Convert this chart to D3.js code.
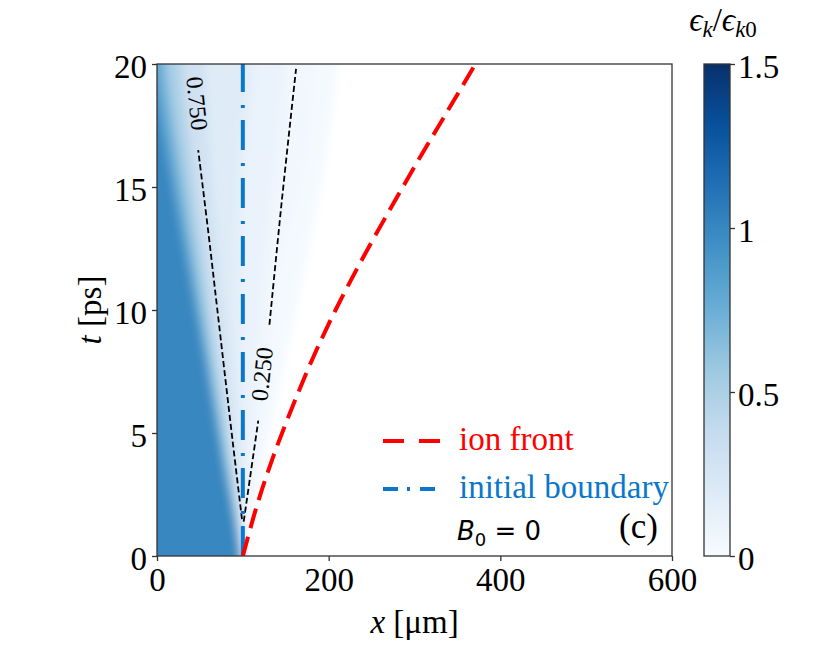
<!DOCTYPE html>
<html>
<head>
<meta charset="utf-8">
<script src="https://cdn.jsdelivr.net/npm/d3@7"></script>
<style>
  body { margin: 0; background: #fff; }
  svg { display: block; }
</style>
</head>
<body>
<svg id="chart" width="830" height="646" font-family="Liberation Serif, Times New Roman, serif"></svg>
<script>
// ---- data ----
var xTicks = [0, 200, 400, 600];
var tTicks = [0, 5, 10, 15, 20];
var cbTicks = [0, 0.5, 1, 1.5];
var cbTickLabels = ["0", "0.5", "1", "1.5"];

// matplotlib "Blues"
var bluesStops = ["#f7fbff", "#deebf7", "#c6dbef", "#9ecae1", "#6baed6", "#4292c6", "#2171b5", "#08519c", "#08306b"];

var boundaryX = 100;

// ion front x(t)
var frontT = [0, 2, 4, 6, 8, 10, 12, 14, 16, 18, 20];
var frontX = [100, 116, 135, 157, 181, 208, 238, 270, 303, 337, 371];

// eps_k/eps_k0 field: x where the value falls below each level, at each t row
var heatT = [0, 4, 8, 12, 16, 20];
var heatLevels = [0.02, 0.05, 0.1, 0.18, 0.3, 0.5, 0.75, 1.0];
var heatEdges = [
  [100, 126, 150, 174, 196, 210],
  [100, 120, 130, 145, 172, 182],
  [100, 110, 118, 125, 138, 148],
  [100, 102, 96, 94, 98, 110],
  [100, 92, 83, 72, 62, 56],
  [99, 86, 70, 55, 40, 28],
  [98, 80, 62, 44, 26, 10],
  [97, 76, 56, 35, 14, -4]
];

// contour lines (t, x)
var c750T = [1.5, 4.7, 10.1, 13.1, 16.5];
var c750X = [99, 88, 70, 60, 48];
var c250LowT = [1.4, 5.5];
var c250LowX = [101, 118];
var c250HighT = [9.4, 14.3, 19.8];
var c250HighX = [131, 145, 162];

var svg = d3.select("#chart");
var pL = 157, pR = 672, pT = 64, pB = 556;

var x = d3.scaleLinear().domain([0, 600]).range([pL, pR]);
var y = d3.scaleLinear().domain([0, 20]).range([pB, pT]);
var color = d3.scaleLinear()
  .domain(bluesStops.map(function(d, i) { return i * 1.5 / (bluesStops.length - 1); }))
  .range(bluesStops);

var defs = svg.append("defs");
defs.append("clipPath").attr("id", "plotclip")
  .append("rect")
  .attr("x", pL).attr("y", pT)
  .attr("width", pR - pL).attr("height", pB - pT);
defs.append("filter").attr("id", "soft")
  .attr("x", "-20%").attr("y", "-20%").attr("width", "140%").attr("height", "140%")
  .append("feGaussianBlur").attr("stdDeviation", 5);

// heatmap bands, widest (lowest) first, blurred into a smooth field
var heat = svg.append("g").attr("clip-path", "url(#plotclip)")
  .append("g").attr("filter", "url(#soft)");

var band = d3.area()
  .y(function(d) { return d[1]; })
  .x0(x(-80))
  .x1(function(d) { return d[0]; })
  .curve(d3.curveCatmullRom);

heatLevels.forEach(function(lv, i) {
  var pts = heatT.map(function(t, j) { return [x(heatEdges[i][j]), y(t)]; });
  pts.unshift([pts[0][0], pB + 40]);
  pts.push([pts[pts.length - 1][0], pT - 40]);
  heat.append("path")
    .attr("d", band(pts))
    .attr("fill", color(lv));
});

var plot = svg.append("g").attr("clip-path", "url(#plotclip)");

var tLine = d3.line()
  .x(function(d) { return x(d[1]); })
  .y(function(d) { return y(d[0]); })
  .curve(d3.curveCatmullRom);

function zipTX(ts, xs) {
  return ts.map(function(t, i) { return [t, xs[i]]; });
}

// contours
[zipTX(c750T, c750X), zipTX(c250LowT, c250LowX), zipTX(c250HighT, c250HighX)].forEach(function(seg) {
  plot.append("path")
    .attr("d", tLine(seg))
    .attr("fill", "none")
    .attr("stroke", "#000")
    .attr("stroke-width", 1.8)
    .attr("stroke-dasharray", "6,3");
});

plot.append("text")
  .attr("transform", "translate(" + x(47) + "," + y(18.4) + ") rotate(84)")
  .attr("text-anchor", "middle")
  .attr("dy", "0.35em")
  .attr("font-size", 24)
  .text("0.750");

plot.append("text")
  .attr("transform", "translate(" + x(122) + "," + y(7.4) + ") rotate(-84)")
  .attr("text-anchor", "middle")
  .attr("dy", "0.35em")
  .attr("font-size", 24)
  .text("0.250");

// initial boundary
var blueLine = "#0a77cc";
plot.append("line")
  .attr("x1", x(boundaryX)).attr("x2", x(boundaryX))
  .attr("y1", y(0)).attr("y2", y(20))
  .attr("stroke", blueLine)
  .attr("stroke-width", 4)
  .attr("stroke-dasharray", "30,12,3,13");

// ion front
plot.append("path")
  .attr("d", tLine(zipTX(frontT, frontX)))
  .attr("fill", "none")
  .attr("stroke", "#ff0000")
  .attr("stroke-width", 4)
  .attr("stroke-dasharray", "20,9");

// frame + axes
svg.append("rect")
  .attr("x", pL).attr("y", pT)
  .attr("width", pR - pL).attr("height", pB - pT)
  .attr("fill", "none").attr("stroke", "#333").attr("stroke-width", 1.3);

var xAxis = svg.append("g")
  .attr("transform", "translate(0," + pB + ")")
  .call(d3.axisBottom(x).tickValues(xTicks).tickSize(5).tickPadding(7).tickFormat(d3.format("d")));
var yAxis = svg.append("g")
  .attr("transform", "translate(" + pL + ",0)")
  .call(d3.axisLeft(y).tickValues(tTicks).tickSize(5).tickPadding(5).tickFormat(d3.format("d")));

[xAxis, yAxis].forEach(function(g) {
  g.select(".domain").remove();
  g.selectAll(".tick line").attr("stroke", "#333").attr("stroke-width", 1.3);
  g.selectAll(".tick text")
    .attr("font-family", "Liberation Serif, serif")
    .attr("font-size", 33)
    .attr("fill", "#000");
});
yAxis.selectAll(".tick text").attr("dy", "0.4em");

svg.append("text")
  .attr("x", (pL + pR) / 2).attr("y", 633)
  .attr("text-anchor", "middle")
  .attr("font-size", 33)
  .call(function(t) {
    t.append("tspan").attr("font-style", "italic").text("x");
    t.append("tspan").text(" [\u03bcm]");
  });

svg.append("text")
  .attr("transform", "translate(101," + (pT + pB) / 2 + ") rotate(-90)")
  .attr("text-anchor", "middle")
  .attr("font-size", 33)
  .call(function(t) {
    t.append("tspan").attr("font-style", "italic").text("t");
    t.append("tspan").text(" [ps]");
  });

// legend
svg.append("line")
  .attr("x1", 383).attr("x2", 440).attr("y1", 441).attr("y2", 441)
  .attr("stroke", "#ff0000").attr("stroke-width", 4)
  .attr("stroke-dasharray", "21,15");
svg.append("text")
  .attr("x", 459).attr("y", 450)
  .attr("font-size", 33).attr("fill", "#ff0000")
  .text("ion front");
svg.append("line")
  .attr("x1", 383).attr("x2", 440).attr("y1", 489).attr("y2", 489)
  .attr("stroke", blueLine).attr("stroke-width", 4)
  .attr("stroke-dasharray", "15,9,3,10");
svg.append("text")
  .attr("x", 459).attr("y", 498)
  .attr("font-size", 33).attr("fill", blueLine)
  .text("initial boundary");

svg.append("text")
  .attr("x", 457).attr("y", 540)
  .attr("font-family", "DejaVu Sans, sans-serif")
  .attr("font-size", 26)
  .call(function(t) {
    t.append("tspan").attr("font-style", "italic").text("B");
    t.append("tspan").attr("font-size", 18).attr("dy", 6).text("0");
    t.append("tspan").attr("dy", -6).text(" = 0");
  });
svg.append("text")
  .attr("x", 619).attr("y", 538)
  .attr("font-size", 35)
  .text("(c)");

// colorbar
var cbX = 704, cbW = 26;
var cbY = d3.scaleLinear().domain([0, 1.5]).range([pB, pT]);
var grad = defs.append("linearGradient").attr("id", "cbgrad")
  .attr("x1", 0).attr("y1", 1).attr("x2", 0).attr("y2", 0);
bluesStops.forEach(function(c, i) {
  grad.append("stop")
    .attr("offset", i / (bluesStops.length - 1))
    .attr("stop-color", c);
});
svg.append("rect")
  .attr("x", cbX).attr("y", pT)
  .attr("width", cbW).attr("height", pB - pT)
  .attr("fill", "url(#cbgrad)")
  .attr("stroke", "#333").attr("stroke-width", 1.3);

var cbAxis = svg.append("g")
  .attr("transform", "translate(" + (cbX + cbW) + ",0)")
  .call(d3.axisRight(cbY).tickValues(cbTicks).tickSize(5).tickPadding(3)
    .tickFormat(function(d, i) { return cbTickLabels[i]; }));
cbAxis.select(".domain").remove();
cbAxis.selectAll(".tick line").attr("stroke", "#333").attr("stroke-width", 1.3);
cbAxis.selectAll(".tick text")
  .attr("font-family", "Liberation Serif, serif")
  .attr("font-size", 33)
  .attr("fill", "#000")
  .attr("dy", "0.4em");

svg.append("text")
  .attr("x", 723).attr("y", 31)
  .attr("text-anchor", "middle")
  .attr("font-size", 33)
  .attr("font-style", "italic")
  .call(function(t) {
    t.append("tspan").text("\u03f5");
    t.append("tspan").attr("font-size", 23).attr("dy", 6).text("k");
    t.append("tspan").attr("font-style", "normal").attr("dy", -6).text("/");
    t.append("tspan").text("\u03f5");
    t.append("tspan").attr("font-size", 23).attr("dy", 6).text("k");
    t.append("tspan").attr("font-size", 23).attr("font-style", "normal").text("0");
  });
</script>
</body>
</html>
